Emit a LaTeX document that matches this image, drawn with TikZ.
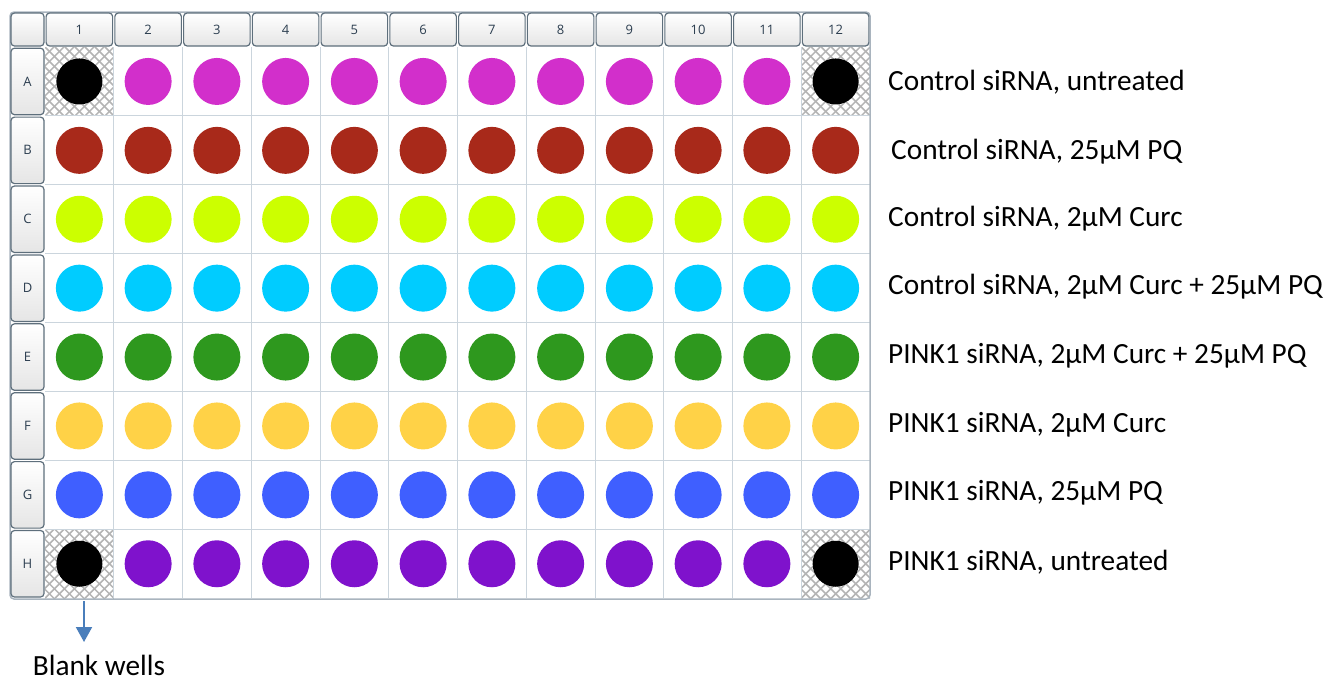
\documentclass[tikz,border=0pt]{standalone}
\usepackage{fontspec}
\setmainfont{Carlito}
\newfontfamily\hdrfont{Open Sans}
\usetikzlibrary{arrows.meta}
\definecolor{cA}{HTML}{D22FCB}
\definecolor{cB}{HTML}{A8291A}
\definecolor{cC}{HTML}{CCFF00}
\definecolor{cD}{HTML}{00CCFF}
\definecolor{cE}{HTML}{2E981E}
\definecolor{cF}{HTML}{FFD247}
\definecolor{cG}{HTML}{3F5FFF}
\definecolor{cH}{HTML}{7F12CC}
\definecolor{gridc}{HTML}{CBD5DD}
\definecolor{framec}{HTML}{A9B4BE}
\definecolor{hdrborder}{HTML}{5E6F7C}
\definecolor{hdrtext}{HTML}{2C3E50}
\definecolor{hatchc}{HTML}{B4B4B4}
\definecolor{arrowblue}{HTML}{4A7EBB}
\tikzset{
  hdrbox/.style={draw=hdrborder, line width=1.2, rounded corners=3.5, top color=white, bottom color=black!10, inner sep=0, font=\fontsize{13}{15}\hdrfont, text=hdrtext},
  colhdr/.style={hdrbox, minimum width=66.5, minimum height=33},
  rowhdr/.style={hdrbox, minimum width=33, minimum height=66.5},
  cornerhdr/.style={hdrbox, minimum width=33, minimum height=33},
  well/.style={circle, inner sep=0, minimum size=47},
  rowlabel/.style={anchor=west, inner sep=0, font=\fontsize{29.3}{34}\selectfont},
  hatchline/.style={draw=hatchc, line width=1.5},
  gridline/.style={draw=gridc, line width=1}
}
\begin{document}
\begin{tikzpicture}[x=1pt,y=-1pt]
\useasboundingbox (0,0) rectangle (1327,681);
\def\cw{68.75}
\def\rh{68.9}
% plate background
\fill[white] (45,47) rectangle (870,598);
% hatched blank cells
\foreach \r/\c in {1/1,1/12,8/1,8/12}{
  \pgfmathsetmacro{\xa}{45+(\c-1)*\cw}
  \pgfmathsetmacro{\ya}{47+(\r-1)*\rh}
  \begin{scope}
    \clip (\xa,\ya) rectangle ++(\cw,\rh);
    \foreach \k in {-80,-70,...,80}{
      \draw[hatchline] (\xa+\k,\ya) -- ++(80,80);
      \draw[hatchline] (\xa+\k,\ya+\rh) -- ++(80,-80);
    }
  \end{scope}
}
% grid lines
\foreach \k in {1,...,11}{\draw[gridline] (45+\k*\cw,47) -- (45+\k*\cw,598);}
\foreach \k in {1,...,7}{\draw[gridline] (45,47+\k*\rh) -- (870,47+\k*\rh);}
% outer frame
\draw[framec, line width=1.5, rounded corners=4] (10,12) rectangle (870,599);
% headers
\node[cornerhdr] (corner) at (27.5,29.5) {};
\foreach \c in {1,...,12}{
  \node[colhdr] (col\c) at (45+\c*\cw-0.5*\cw,29.5) {\c};
}
\foreach \r/\L in {1/A,2/B,3/C,4/D,5/E,6/F,7/G,8/H}{
  \node[rowhdr] (row\L) at (27.5,47+\r*\rh-0.5*\rh) {\L};
}
% wells
\foreach \r/\col/\ca/\cb in {1/cA/2/11,2/cB/1/12,3/cC/1/12,4/cD/1/12,5/cE/1/12,6/cF/1/12,7/cG/1/12,8/cH/2/11}{
  \foreach \c in {\ca,...,\cb}{
    \node[well, fill=\col] (w\r-\c) at (45+\c*\cw-0.5*\cw,47+\r*\rh-0.5*\rh) {};
  }
}
\foreach \r/\c in {1/1,1/12,8/1,8/12}{
  \node[well, fill=black, minimum size=46] (b\r-\c) at (45+\c*\cw-0.5*\cw,47+\r*\rh-0.5*\rh) {};
}
% labels
\node[rowlabel] (lA) at (888,82) {Control siRNA, untreated};
\node[rowlabel] (lB) at (891,152) {Control siRNA, 25µM PQ};
\node[rowlabel] (lC) at (888,219) {Control siRNA, 2µM Curc};
\node[rowlabel] (lD) at (888,287) {Control siRNA, 2µM Curc + 25µM PQ};
\node[rowlabel] (lE) at (888,356) {PINK1 siRNA, 2µM Curc + 25µM PQ};
\node[rowlabel] (lF) at (888,425) {PINK1 siRNA, 2µM Curc};
\node[rowlabel] (lG) at (888,493) {PINK1 siRNA, 25µM PQ};
\node[rowlabel] (lH) at (888,562) {PINK1 siRNA, untreated};
% blank wells arrow
\coordinate (arrS) at (84,601);
\coordinate (arrE) at (84,642);
\node[rowlabel, anchor=base] (blank) at (99,675.5) {Blank wells};
\draw[arrowblue, line width=2, -{Triangle[width=16,length=15]}] (arrS) -- (arrE);
\end{tikzpicture}
\end{document}
